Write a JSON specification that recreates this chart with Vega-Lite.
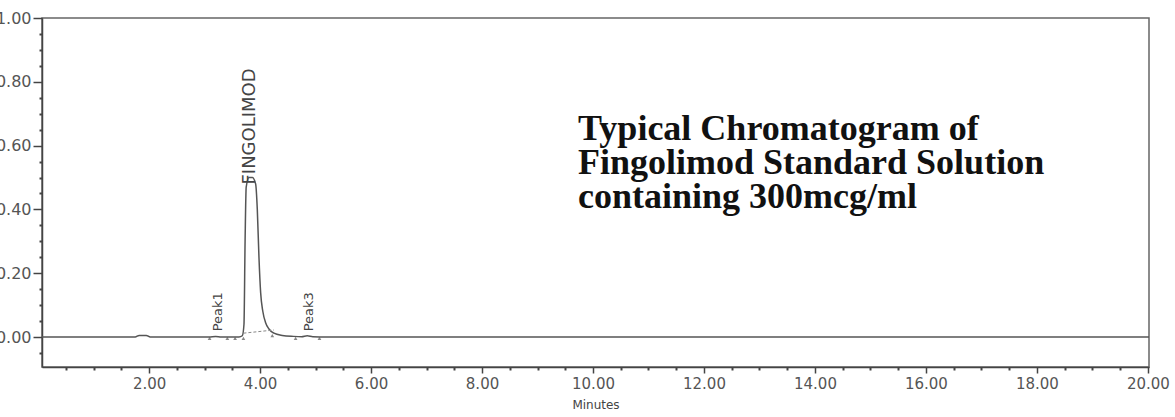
{
  "$schema": "https://vega.github.io/schema/vega-lite/v6.json",
  "width": 1107,
  "height": 349,
  "autosize": {"type": "none"},
  "padding": {"left": 42, "top": 18, "right": 24, "bottom": 50},
  "background": "white",
  "view": {"stroke": "#666666", "strokeWidth": 1.5},
  "datasets": {
    "signal": [
      {"min": 0.07, "au": 0.0},
      {"min": 1.75, "au": 0.0},
      {"min": 1.82, "au": 0.005},
      {"min": 1.95, "au": 0.005},
      {"min": 2.02, "au": 0.0},
      {"min": 3.08, "au": 0.0},
      {"min": 3.2, "au": 0.002},
      {"min": 3.3, "au": 0.0},
      {"min": 3.62, "au": 0.0},
      {"min": 3.68, "au": 0.004},
      {"min": 3.71, "au": 0.04},
      {"min": 3.73, "au": 0.3},
      {"min": 3.75, "au": 0.47},
      {"min": 3.8, "au": 0.5},
      {"min": 3.86, "au": 0.5},
      {"min": 3.92, "au": 0.48},
      {"min": 3.95, "au": 0.4},
      {"min": 3.98, "au": 0.25},
      {"min": 4.01, "au": 0.14},
      {"min": 4.05, "au": 0.08},
      {"min": 4.1, "au": 0.045},
      {"min": 4.16, "au": 0.025},
      {"min": 4.25, "au": 0.012},
      {"min": 4.4, "au": 0.005},
      {"min": 4.6, "au": 0.002},
      {"min": 4.75, "au": 0.001},
      {"min": 4.85, "au": 0.004},
      {"min": 4.95, "au": 0.001},
      {"min": 5.2, "au": 0.0},
      {"min": 20.02, "au": 0.0}
    ],
    "intbase": [
      {"min": 3.7, "au": 0.012},
      {"min": 4.25, "au": 0.022}
    ],
    "markers": [
      {"min": 3.09, "au": -0.004},
      {"min": 3.41, "au": -0.004},
      {"min": 3.55, "au": -0.004},
      {"min": 3.7, "au": -0.004},
      {"min": 4.22, "au": 0.004},
      {"min": 4.64, "au": -0.004},
      {"min": 5.07, "au": -0.004}
    ],
    "peaklabels": [
      {"min": 3.24, "au": 0.018, "label": "Peak1", "size": 13},
      {"min": 4.88, "au": 0.018, "label": "Peak3", "size": 13},
      {"min": 3.81, "au": 0.478, "label": "FINGOLIMOD", "size": 18}
    ],
    "notes": [
      {"min": 9.73, "au": 0.6176, "label": "Typical Chromatogram of"},
      {"min": 9.73, "au": 0.511, "label": "Fingolimod Standard Solution"},
      {"min": 9.73, "au": 0.4044, "label": "containing 300mcg/ml"}
    ]
  },
  "layer": [
    {
      "data": {"name": "signal"},
      "mark": {"type": "line", "color": "#555555", "strokeWidth": 1.5, "interpolate": "monotone"},
      "encoding": {
        "x": {
          "field": "min", "type": "quantitative",
          "scale": {"domain": [0.07, 20.02], "nice": false, "zero": false},
          "axis": {
            "orient": "bottom",
            "values": [2, 4, 6, 8, 10, 12, 14, 16, 18, 20],
            "format": ".2f",
            "title": "Minutes",
            "titleFont": "DejaVu Sans",
            "titleFontSize": 12,
            "titleFontWeight": "normal",
            "titleColor": "#444444",
            "titlePadding": 8,
            "labelFont": "DejaVu Sans",
            "labelFontSize": 15,
            "labelColor": "#555555",
            "labelPadding": 3,
            "labelFlush": false,
            "tickSize": 6,
            "tickColor": "#444444",
            "tickWidth": 1.5,
            "domainColor": "#444444",
            "domainWidth": 1.5,
            "grid": false
          }
        },
        "y": {
          "field": "au", "type": "quantitative",
          "scale": {"domain": [-0.094, 1.0], "nice": false, "zero": false},
          "axis": {
            "orient": "left",
            "values": [0, 0.2, 0.4, 0.6, 0.8, 1.0],
            "format": ".2f",
            "title": null,
            "labelFont": "DejaVu Sans",
            "labelFontSize": 16,
            "labelColor": "#555555",
            "labelPadding": 2,
            "labelFlush": false,
            "tickSize": 9,
            "tickColor": "#444444",
            "tickWidth": 1.5,
            "domainColor": "#444444",
            "domainWidth": 1.5,
            "grid": false
          }
        }
      }
    },
    {
      "data": {"name": "intbase"},
      "mark": {"type": "line", "color": "#888888", "strokeWidth": 1, "strokeDash": [3, 2]},
      "encoding": {
        "x": {
          "field": "min", "type": "quantitative",
          "axis": {
            "orient": "bottom",
            "values": [0.5, 1, 1.5, 2.5, 3, 3.5, 4.5, 5, 5.5, 6.5, 7, 7.5, 8.5, 9, 9.5, 10.5, 11, 11.5, 12.5, 13, 13.5, 14.5, 15, 15.5, 16.5, 17, 17.5, 18.5, 19, 19.5],
            "labels": false,
            "title": null,
            "domain": false,
            "grid": false,
            "tickSize": 3,
            "tickColor": "#444444",
            "tickWidth": 2
          }
        },
        "y": {
          "field": "au", "type": "quantitative",
          "axis": {
            "orient": "left",
            "values": [-0.05, 0.05, 0.1, 0.15, 0.25, 0.3, 0.35, 0.45, 0.5, 0.55, 0.65, 0.7, 0.75, 0.85, 0.9, 0.95],
            "labels": false,
            "title": null,
            "domain": false,
            "grid": false,
            "tickSize": 3,
            "tickColor": "#444444",
            "tickWidth": 2
          }
        }
      }
    },
    {
      "data": {"name": "markers"},
      "mark": {"type": "point", "shape": "triangle-up", "size": 14, "filled": true, "color": "#555555"},
      "encoding": {
        "x": {"field": "min", "type": "quantitative", "axis": null},
        "y": {"field": "au", "type": "quantitative", "axis": null}
      }
    },
    {
      "data": {"name": "peaklabels"},
      "mark": {"type": "text", "angle": 270, "align": "left", "baseline": "middle", "font": "DejaVu Sans", "color": "#444444"},
      "encoding": {
        "x": {"field": "min", "type": "quantitative", "axis": null},
        "y": {"field": "au", "type": "quantitative", "axis": null},
        "text": {"field": "label"},
        "size": {"field": "size", "type": "quantitative", "scale": null}
      }
    },
    {
      "data": {"name": "notes"},
      "mark": {"type": "text", "align": "left", "baseline": "alphabetic", "font": "Liberation Serif", "fontWeight": "bold", "fontSize": 36, "color": "#111111"},
      "encoding": {
        "x": {"field": "min", "type": "quantitative", "axis": null},
        "y": {"field": "au", "type": "quantitative", "axis": null},
        "text": {"field": "label"}
      }
    }
  ],
  "resolve": {"axis": {"x": "independent", "y": "independent"}}
}
